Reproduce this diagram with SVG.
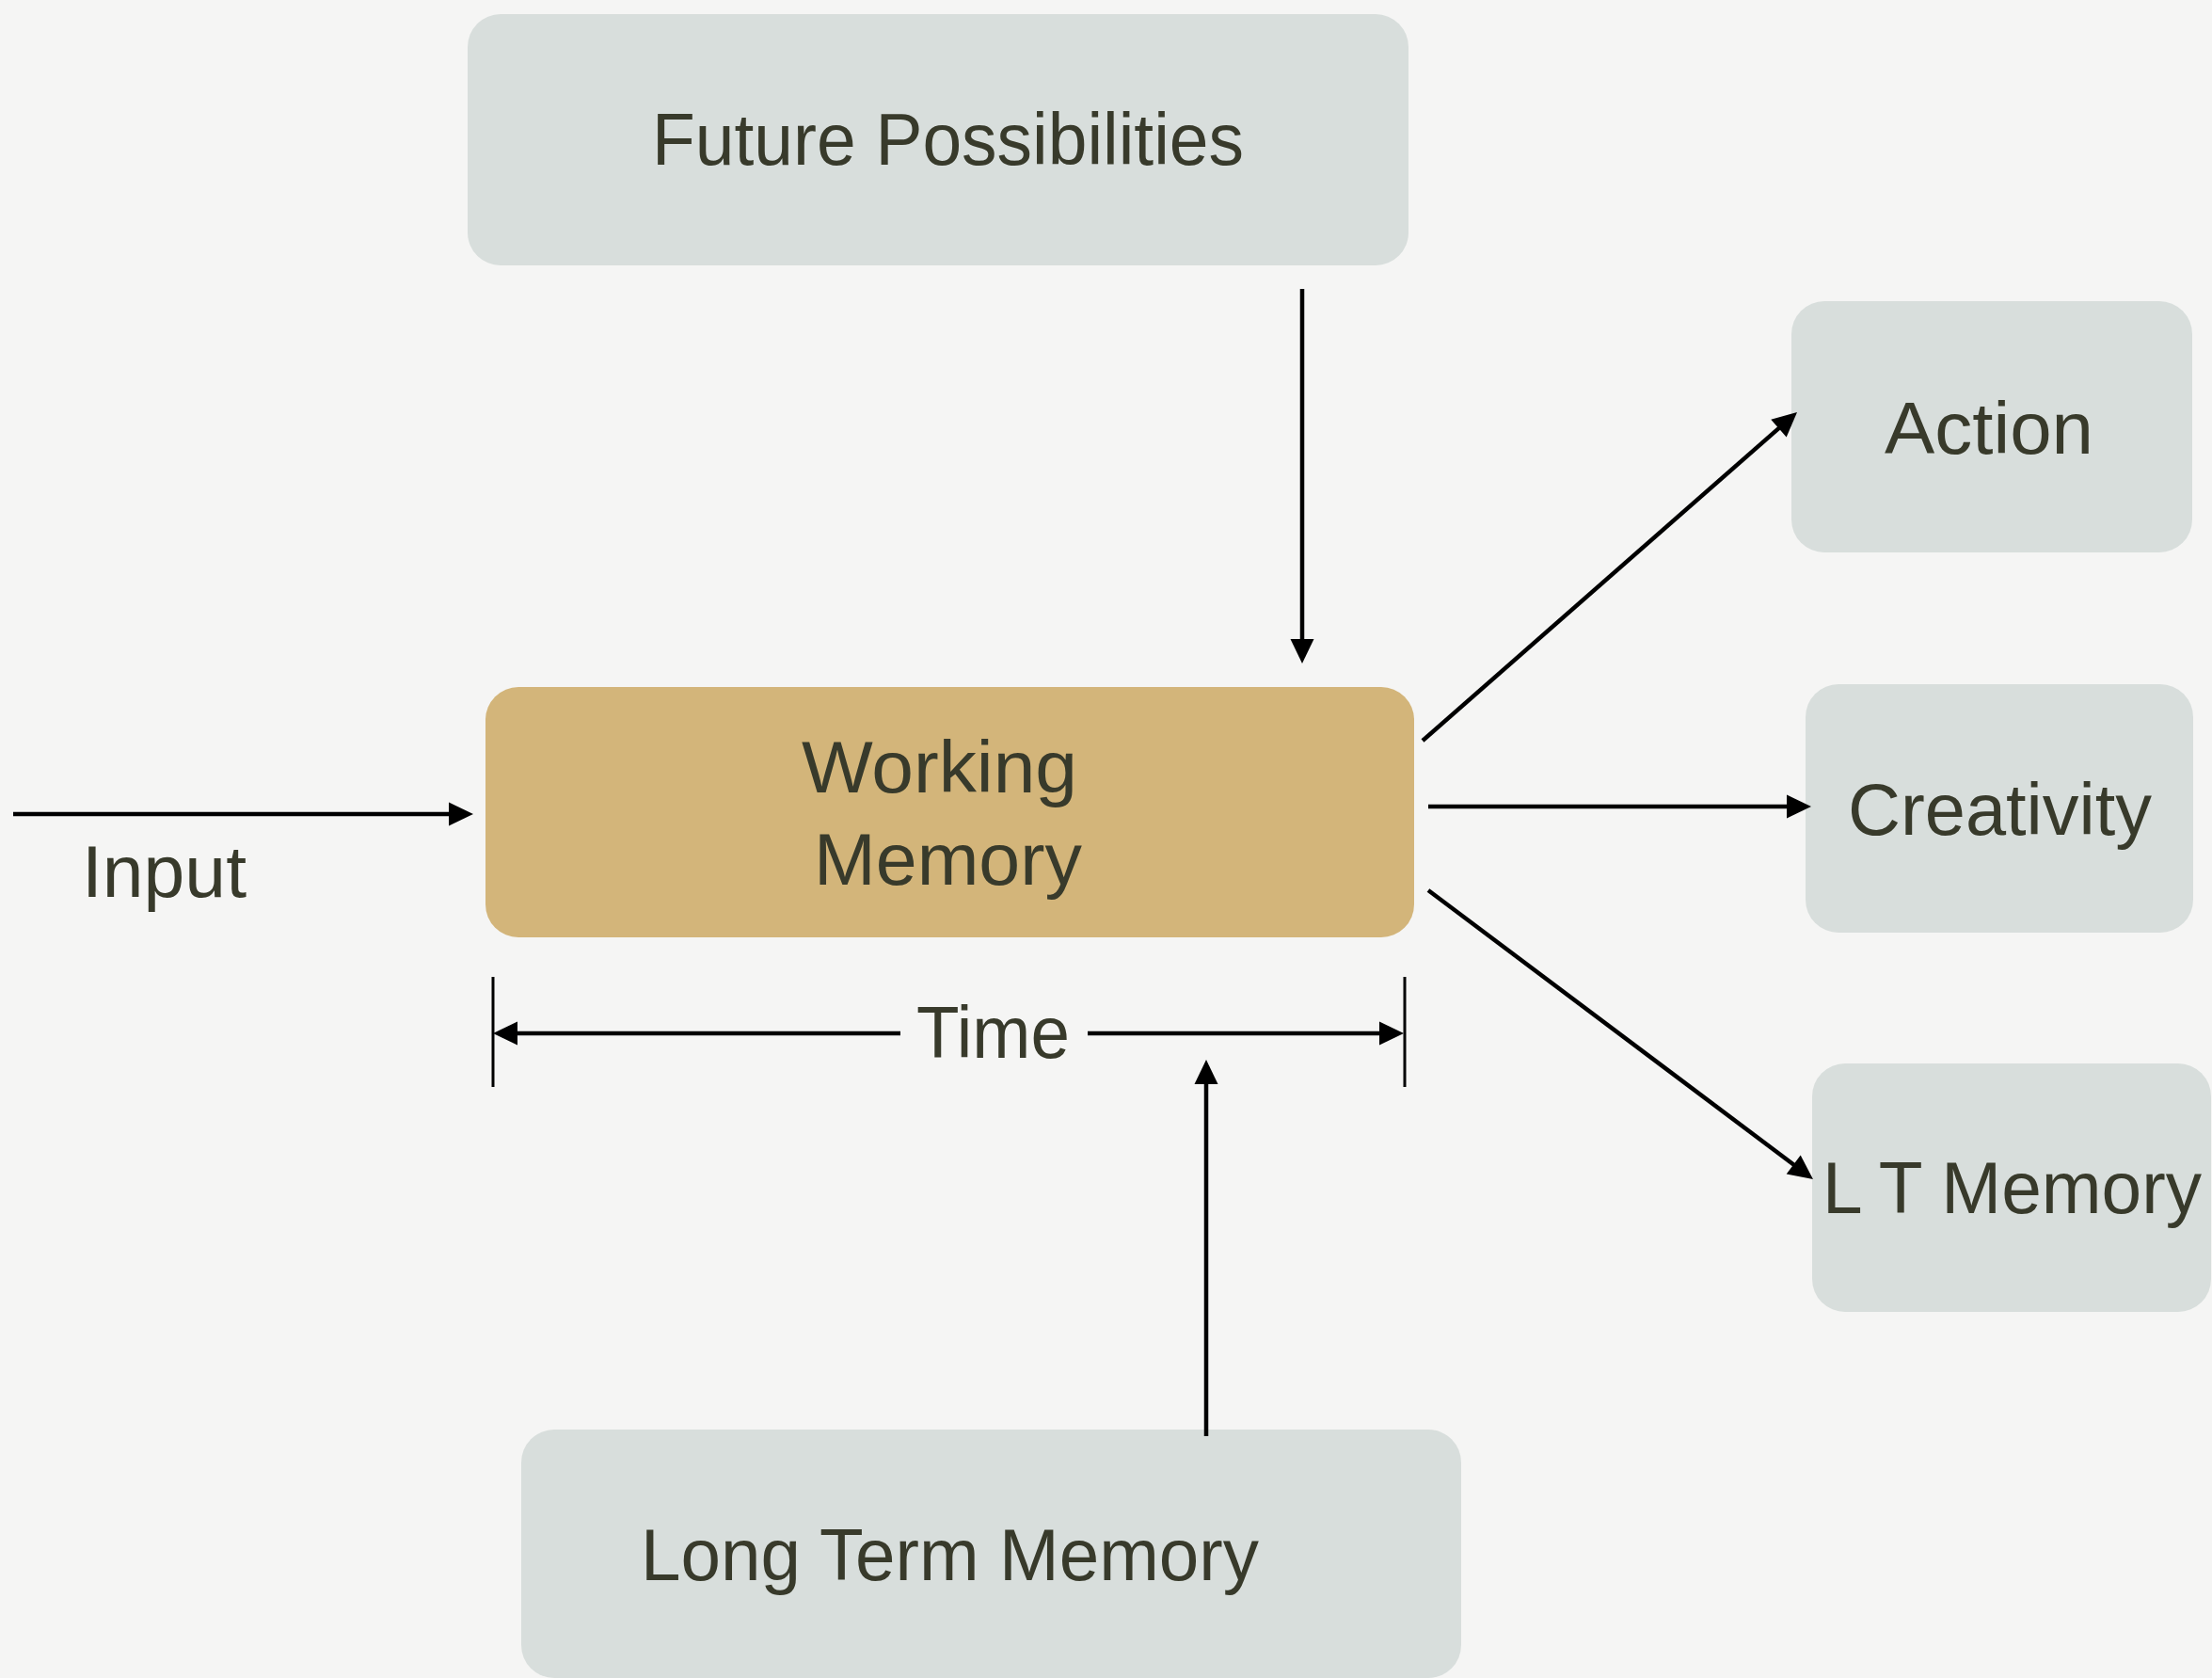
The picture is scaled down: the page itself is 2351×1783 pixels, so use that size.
<svg xmlns="http://www.w3.org/2000/svg" width="2351" height="1783" viewBox="0 0 2351 1783">
  <style>
    .box { fill: #d8dedc; }
    .wm { fill: #d3b57a; }
    .lbl { font-family: "Liberation Sans", Arial, sans-serif; font-size: 77px; fill: #383a2b; }
    .conn { stroke: #000; stroke-width: 4.5; fill: none; }
    .tick { stroke: #000; stroke-width: 3; }
  </style>
  <defs>
    <marker id="ah" markerUnits="userSpaceOnUse" markerWidth="26" markerHeight="26" refX="16" refY="12.5" orient="auto" overflow="visible">
      <path d="M0,0 L26,12.5 L0,25 z" fill="#000"/>
    </marker>
  </defs>
  <rect x="0" y="0" width="2351" height="1783" fill="#f5f5f4"/>

  <g id="future-possibilities">
    <rect class="box" x="497" y="15" width="1000" height="267" rx="35" ry="35"/>
    <text class="lbl" x="693" y="175" textLength="629" lengthAdjust="spacingAndGlyphs">Future Possibilities</text>
  </g>
  <g id="working-memory">
    <rect class="wm" x="516" y="730" width="987" height="266" rx="35" ry="35"/>
    <text class="lbl" x="852" y="842" textLength="293" lengthAdjust="spacingAndGlyphs">Working</text>
    <text class="lbl" x="865" y="940" textLength="285" lengthAdjust="spacingAndGlyphs">Memory</text>
  </g>
  <g id="input">
    <text class="lbl" x="87" y="953" textLength="175" lengthAdjust="spacingAndGlyphs">Input</text>
  </g>
  <g id="time">
    <text class="lbl" x="974" y="1124" textLength="163" lengthAdjust="spacingAndGlyphs">Time</text>
  </g>
  <g id="long-term-memory">
    <rect class="box" x="554" y="1519" width="999" height="264" rx="35" ry="35"/>
    <text class="lbl" x="681" y="1679" textLength="657" lengthAdjust="spacingAndGlyphs">Long Term Memory</text>
  </g>
  <g id="action">
    <rect class="box" x="1904" y="320" width="426" height="267" rx="35" ry="35"/>
    <text class="lbl" x="2003" y="482" textLength="222" lengthAdjust="spacingAndGlyphs">Action</text>
  </g>
  <g id="creativity">
    <rect class="box" x="1919" y="727" width="412" height="264" rx="35" ry="35"/>
    <text class="lbl" x="1964" y="887" textLength="323" lengthAdjust="spacingAndGlyphs">Creativity</text>
  </g>
  <g id="lt-memory">
    <rect class="box" x="1926" y="1130" width="424" height="264" rx="35" ry="35"/>
    <text class="lbl" x="1937" y="1289" textLength="403" lengthAdjust="spacingAndGlyphs">L T Memory</text>
  </g>

  <g id="connectors">
    <line class="conn" x1="14" y1="865" x2="493" y2="865" marker-end="url(#ah)"/>
    <line class="conn" x1="1384" y1="307" x2="1384" y2="695" marker-end="url(#ah)"/>
    <line class="conn" x1="1282" y1="1526" x2="1282" y2="1136" marker-end="url(#ah)"/>
    <line class="conn" x1="1512" y1="787" x2="1902.5" y2="444.6" marker-end="url(#ah)"/>
    <line class="conn" x1="1518" y1="857" x2="1915" y2="857" marker-end="url(#ah)"/>
    <line class="conn" x1="1518" y1="946" x2="1919" y2="1247" marker-end="url(#ah)"/>
    <line class="conn" x1="957" y1="1098" x2="534" y2="1098" marker-end="url(#ah)"/>
    <line class="conn" x1="1156" y1="1098" x2="1482" y2="1098" marker-end="url(#ah)"/>
    <line class="tick" x1="524" y1="1038" x2="524" y2="1155"/>
    <line class="tick" x1="1493" y1="1038" x2="1493" y2="1155"/>
  </g>
</svg>
